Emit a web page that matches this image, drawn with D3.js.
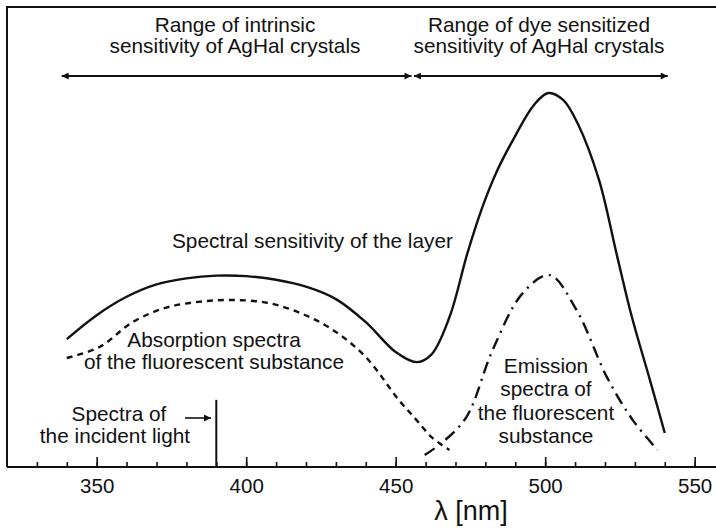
<!DOCTYPE html>
<html>
<head>
<meta charset="utf-8">
<script src="https://cdn.jsdelivr.net/npm/d3@7"></script>
<style>
  body { margin: 0; background: #fff; }
  svg { display: block; font-family: "Liberation Sans", Arial, Helvetica, sans-serif; }
</style>
</head>
<body>
<svg id="chart"></svg>
<script>
// wavelength [nm] and relative response
const sensWl   = [340, 350, 360, 370, 380, 390, 400, 410, 420, 430, 440, 450, 457, 462, 468, 474, 479, 484, 490, 496, 501, 506, 511, 518, 524, 529, 535, 540];
const sensVal  = [27.8, 33, 37, 39.7, 41, 41.6, 41.5, 40.7, 39.2, 36.5, 31.5, 25, 22.8, 24.5, 32.6, 46.5, 56.5, 64.5, 72, 78.5, 81.3, 79.8, 74.5, 62.4, 46, 32.6, 19, 7.4];

const absWl    = [340, 351, 362, 373, 384, 395, 407, 418, 429, 440, 451, 457, 462, 468];
const absVal   = [23.7, 26.1, 31.5, 34.6, 35.9, 36.3, 35.7, 33.5, 29.8, 23.9, 14.6, 10.2, 6.5, 3.7];

const emiWl    = [459.7, 465.7, 473.7, 482.4, 492.5, 501.5, 510.5, 520.6, 529.3, 537.6];
const emiVal   = [2.6, 5.4, 10.9, 25.4, 37.8, 41.7, 34.1, 19.6, 10.2, 3.7];

const incidentWl = 390;
const incidentTop = 14.6;

const arrowRanges = [[338.3, 455.3], [456.1, 541]];
const arrowLevel = 85;

const minorTicks = d3.range(330, 551, 10);
const majorTicks = [350, 400, 450, 500, 550];

const width = 716, height = 528;
const svg = d3.select('#chart').attr('width', width).attr('height', height);

const x = d3.scaleLinear().domain([320, 557]).range([7, 715.6]);
const y = d3.scaleLinear().domain([0, 100]).range([467, 7]);

// frame
svg.append('path')
  .attr('d', `M${x(320)},${y(0)} V${y(100)} H${width}`)
  .attr('fill', 'none').attr('stroke', '#111').attr('stroke-width', 2);

// axis: minor ticks then major ticks with labels
const gMinor = svg.append('g').attr('transform', `translate(0,${y(0)})`)
  .call(d3.axisBottom(x).tickValues(minorTicks).tickSize(-5).tickFormat(''));
const gMajor = svg.append('g').attr('transform', `translate(0,${y(0)})`)
  .call(d3.axisBottom(x).tickValues(majorTicks).tickSize(-10).tickPadding(11).tickFormat(d3.format('d')));
[gMinor, gMajor].forEach(g => {
  g.select('.domain').remove();
  g.selectAll('line').attr('stroke', '#111').attr('stroke-width', 1.6);
});
gMajor.selectAll('text').attr('font-size', 20.5).attr('fill', '#111').attr('font-family', null);
svg.append('line')
  .attr('x1', x(320)).attr('x2', width).attr('y1', y(0)).attr('y2', y(0))
  .attr('stroke', '#111').attr('stroke-width', 2.2);

svg.append('text')
  .attr('x', 471).attr('y', 520).attr('text-anchor', 'middle')
  .attr('font-size', 27).attr('fill', '#111')
  .text('λ [nm]');

// curves
const line = d3.line()
  .x(d => x(d[0])).y(d => y(d[1]))
  .curve(d3.curveCatmullRom.alpha(0.5));

svg.append('path')
  .attr('d', line(d3.zip(sensWl, sensVal)))
  .attr('fill', 'none').attr('stroke', '#111').attr('stroke-width', 2.4);

svg.append('path')
  .attr('d', line(d3.zip(absWl, absVal)))
  .attr('fill', 'none').attr('stroke', '#111').attr('stroke-width', 2.4)
  .attr('stroke-dasharray', '6,5');

svg.append('path')
  .attr('d', line(d3.zip(emiWl, emiVal)))
  .attr('fill', 'none').attr('stroke', '#111').attr('stroke-width', 2.4)
  .attr('stroke-dasharray', '12,6,2,6');

// incident light
svg.append('line')
  .attr('x1', x(incidentWl)).attr('x2', x(incidentWl))
  .attr('y1', y(incidentTop)).attr('y2', y(0))
  .attr('stroke', '#111').attr('stroke-width', 2);

// arrowheads
const defs = svg.append('defs');
defs.append('marker')
  .attr('id', 'head').attr('viewBox', '0 0 10 10')
  .attr('refX', 10).attr('refY', 5)
  .attr('markerWidth', 13).attr('markerHeight', 7)
  .attr('markerUnits', 'userSpaceOnUse')
  .attr('orient', 'auto-start-reverse')
  .append('path').attr('d', 'M0,0 L10,5 L0,10 Z').attr('fill', '#111');

arrowRanges.forEach(r => {
  svg.append('line')
    .attr('x1', x(r[0])).attr('x2', x(r[1]))
    .attr('y1', y(arrowLevel)).attr('y2', y(arrowLevel))
    .attr('stroke', '#111').attr('stroke-width', 1.8)
    .attr('marker-start', 'url(#head)').attr('marker-end', 'url(#head)');
});

svg.append('line')
  .attr('x1', 185).attr('x2', 211).attr('y1', 418).attr('y2', 418)
  .attr('stroke', '#111').attr('stroke-width', 1.6)
  .attr('marker-end', 'url(#head)');

// labels
const labels = [
  { lines: ['Range of intrinsic', 'sensitivity of AgHal crystals'], x: 235, y: 32, dy: 21 },
  { lines: ['Range of dye sensitized', 'sensitivity of AgHal crystals'], x: 539, y: 32, dy: 21 },
  { lines: ['Spectral sensitivity of the layer'], x: 172, y: 248, dy: 0, anchor: 'start' },
  { lines: ['Absorption spectra', 'of the fluorescent substance'], x: 214, y: 347, dy: 22 },
  { lines: ['Emission', 'spectra of', 'the fluorescent', 'substance'], x: 546, y: 373, dy: 23.3 },
  { lines: ['Spectra of', 'the incident light'], x: 115, y: 421, dy: 22 }
];

labels.forEach(l => {
  const t = svg.append('text')
    .attr('text-anchor', l.anchor || 'middle')
    .attr('font-size', 20.8).attr('fill', '#111');
  l.lines.forEach((s, i) => {
    t.append('tspan').attr('x', l.x).attr('y', l.y + i * l.dy).text(s);
  });
});
// first line of incident label sits a little right of the second
svg.selectAll('text').filter(function () { return this.textContent.startsWith('Spectra of'); })
  .select('tspan').attr('x', 119);
</script>
</body>
</html>
